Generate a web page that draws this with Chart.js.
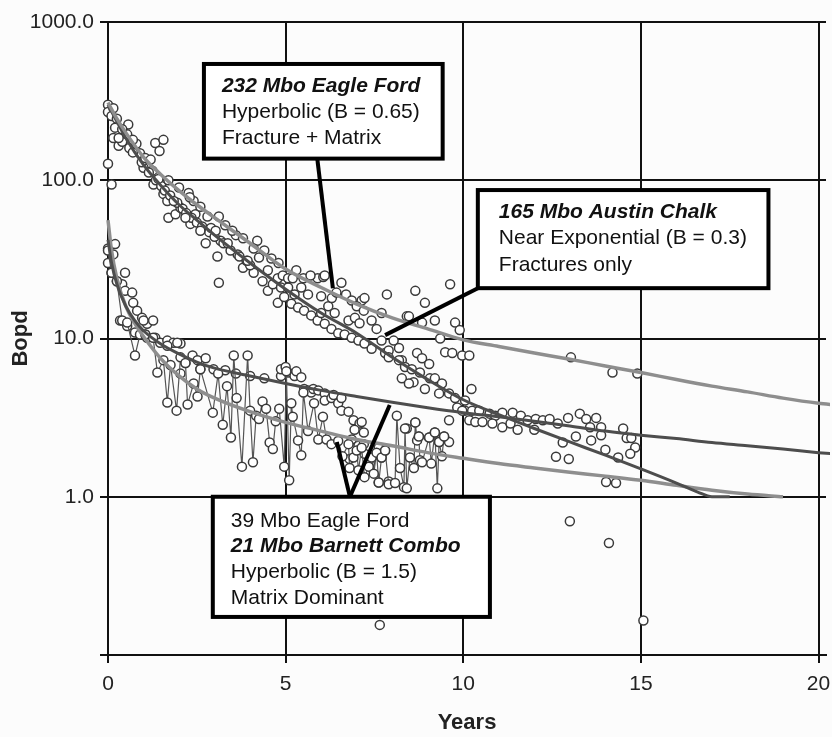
<!DOCTYPE html>
<html>
<head>
<meta charset="utf-8">
<script src="https://cdn.jsdelivr.net/npm/chart.js@4.4.0/dist/chart.umd.min.js"></script>
<style>
  html, body { margin: 0; padding: 0; background: #fcfcfc; }
  #wrap { width: 832px; height: 737px; }
</style>
</head>
<body>
<div id="wrap"><canvas id="c" width="832" height="737"></canvas></div>
<script>
// ---------- Data (Years, Bopd) ----------
const xTicks = [0, 5, 10, 15, 20];
const yTicks = [0.1, 1, 10, 100, 1000];

// 232 Mbo Eagle Ford - observed points
const ef232Points = [[0,300],[0,270],[0.15,285],[0.1,255],[0,127],[0.1,94],[0.25,245],[0.2,215],[0.3,185],[0.57,225],[0.54,195],[0.8,170],[1.05,138],[1.33,172],[1.56,180],[1.45,153],[1.42,102],[1.85,74],[2.27,83],[2.41,74],[2.8,59],[2.9,50],[3.12,59],[3.03,48],[3.37,40],[3.6,45],[4.2,41.5],[4.1,37],[4.25,32.5],[4.5,27],[4.78,24],[4.92,25],[5.07,24],[5.2,24],[5.5,24],[5.44,21],[5.9,24],[6.06,24.5],[6.1,25],[6.57,22.5],[6.43,19.5],[6.7,19],[6.86,17.4],[7.14,17.4],[7.22,18],[7.0,16],[7.2,15],[7.7,14.5],[7.85,19],[8.65,20],[8.92,16.8],[9.63,22],[8.47,13.8],[8.84,12.6],[9.2,13],[9.77,12.6],[9.9,11.3],[10.17,7.8],[13.03,7.6],[14.2,6.1],[14.9,6.0],[10.23,4.8],[3.12,22.5],[2.18,58],[2.6,48],[3.93,31],[5.63,19],[0.4,210],[0.7,180],[1.2,135],[1.7,100],[2.0,90],[2.3,78],[2.6,68],[3.3,52],[3.5,48],[3.8,43],[4.4,36],[4.6,32],[4.8,30],[5.3,27],[5.7,25]];

// 165 Mbo Austin Chalk - observed points
const ac165Points = [[0.15,185],[0.3,165],[0.9,148],[1.1,127],[1.0,120],[1.25,115],[1.28,94],[1.56,82],[1.67,74],[1.7,58],[1.9,61],[2.04,67],[2.32,53],[2.46,61],[2.75,40],[3.17,41.5],[3.08,33],[3.65,34],[3.8,28],[4.1,26],[4.35,23],[4.5,20],[4.64,22],[4.87,21],[5.07,21],[5.25,19],[4.78,16.8],[4.96,18.3],[5.16,16.6],[5.35,15.7],[5.52,15],[5.72,14],[5.9,13],[6.0,14.5],[6.1,12.4],[6.29,11.5],[6.2,16],[6.0,18.5],[6.3,18],[6.38,14.5],[6.48,10.8],[6.66,10.6],[6.77,13],[6.95,13.5],[6.86,10.1],[7.05,9.7],[7.08,12.5],[7.22,9.3],[7.42,8.6],[7.42,13],[7.56,11.5],[7.7,9.7],[7.8,8.1],[8.04,9.7],[8.19,8.7],[8.27,7.3],[8.41,13.8],[8.7,8.1],[7.9,8.4],[7.9,7.6],[8.19,7.3],[8.36,6.6],[8.55,6.4],[8.84,7.5],[9.04,6.9],[8.78,6.1],[9.06,5.6],[9.2,5.6],[9.4,5.2],[9.32,4.5],[9.6,4.5],[9.77,4.2],[10.05,4.06],[9.83,3.67],[10.05,3.5],[10.17,3.04],[9.6,3.04],[8.6,5.3],[8.92,4.8],[8.27,5.6],[8.47,5.2],[9.35,10],[9.49,8.2],[9.69,8.1],[9.97,7.8],[0.4,175],[0.6,160],[0.7,150],[0.95,130],[1.15,112],[1.35,100],[1.5,92],[1.6,86],[1.75,80],[1.95,72],[2.1,66],[2.2,62],[2.35,58],[2.5,54],[2.65,51],[2.85,47],[3.0,44],[3.25,40],[3.45,36],[3.7,33],[3.9,31],[4.0,29],[9.97,3.5],[10.25,3.5],[10.45,3.5],[10.34,2.97],[10.54,2.97],[10.74,3.35],[10.9,3.25],[10.82,2.9],[11.1,3.4],[11.39,3.4],[11.1,2.75],[11.33,2.9],[11.53,2.65],[11.62,3.25],[11.81,3.04],[12.0,2.65],[12.04,3.1],[12.24,3.04],[12.43,3.1],[12.66,2.9],[12.95,3.15],[12.8,2.2],[13.17,2.4],[13.28,3.35],[13.46,3.1],[13.57,2.75],[13.6,2.27],[13.74,3.15],[13.88,2.75],[13.88,2.45],[14.0,1.98],[14.36,1.77],[14.5,2.7],[14.6,2.35],[14.73,2.35],[14.84,2.05],[14.7,1.87],[12.61,1.79],[12.97,1.73],[14.02,1.24],[14.3,1.22]];

// 39 Mbo Eagle Ford - observed points
const ef39Points = [[0,37],[0,30],[0.15,34],[0.2,39.5],[0.1,26],[0.25,23],[0.48,26],[0.4,22],[0.48,20],[0.68,19.5],[0.71,16.8],[0.82,15],[0.96,13.5],[1.1,12.4],[1.27,13],[1.0,13],[0.34,13],[0.54,12],[0.76,10.9],[1.05,10.6],[1.1,10.1],[1.33,10.1],[1.47,9.4],[1.67,9.7],[1.84,9.4],[2.04,9.3],[1.95,9.4],[1.67,9.0],[2.18,7.0],[2.38,7.8],[2.52,7.3],[2.75,7.5],[2.97,6.4],[2.6,6.4],[2.04,6.0],[3.3,6.3],[3.6,6.0],[4.0,5.8],[4.4,5.6],[4.87,5.8],[4.87,6.4],[5.0,6.6],[5.07,6.1],[5.25,5.8],[5.3,6.2],[5.44,5.7],[5.52,4.8],[5.63,4.7],[5.72,4.55],[5.78,4.8],[5.92,4.7],[6.1,4.5],[6.1,4.06],[6.29,4.2],[6.35,4.4],[6.48,3.9],[6.57,4.2],[6.57,3.5],[6.77,3.45],[6.91,3.04],[7.08,2.9],[7.14,2.97],[6.94,2.65],[7.2,2.55],[6.86,2.3],[7.05,2.1],[7.2,2.15],[6.8,1.73],[7.22,1.87],[7.37,1.62],[7.62,2.04],[7.7,1.77],[7.8,1.96],[7.62,1.23],[7.9,1.25],[8.41,2.7],[8.65,2.95],[8.75,2.4],[9.04,2.37],[9.2,2.55],[9.32,2.22],[9.46,2.4],[9.6,2.22],[7.65,0.155],[13.0,0.70],[14.1,0.51],[15.07,0.165]];

// 21 Mbo Barnett Combo - observed points (connected)
const barnettPoints = [[0,36],[0.1,26],[0.25,23],[0.4,13],[0.54,12.6],[0.76,7.8],[0.9,10.6],[1.05,10.6],[1.27,10.1],[1.39,6.1],[1.56,7.3],[1.67,3.94],[1.76,6.8],[1.93,3.5],[2.04,7.6],[2.18,7.0],[2.24,3.83],[2.41,5.2],[2.52,4.3],[2.6,6.4],[2.95,3.4],[3.1,6.0],[3.23,2.85],[3.35,5.0],[3.46,2.37],[3.54,7.8],[3.62,4.2],[3.77,1.55],[3.93,7.8],[4.0,3.5],[4.08,1.65],[4.17,3.25],[4.25,3.1],[4.35,4.0],[4.45,3.6],[4.55,2.2],[4.64,2.0],[4.72,3.0],[4.82,3.6],[4.96,1.55],[5.02,6.2],[5.1,1.27],[5.16,3.9],[5.2,3.2],[5.35,2.27],[5.44,1.83],[5.5,4.55],[5.63,2.6],[5.8,3.9],[5.92,2.3],[6.05,3.2],[6.15,2.3],[6.29,2.15],[6.48,2.25],[6.6,1.8],[6.77,2.15],[6.8,1.52],[6.91,1.77],[7.0,1.96],[7.05,1.47],[7.14,2.04],[7.22,1.33],[7.34,1.55],[7.42,1.77],[7.48,1.4],[7.56,1.9],[7.62,1.23],[7.7,1.77],[7.8,1.96],[7.9,1.2],[8.08,1.22],[8.13,3.25],[8.22,1.52],[8.33,1.15],[8.36,2.7],[8.41,1.13],[8.5,1.77],[8.61,1.52],[8.65,2.95],[8.7,2.27],[8.75,2.4],[8.78,1.7],[8.84,1.65],[9.04,2.37],[9.1,1.62],[9.2,2.55],[9.27,1.13],[9.32,2.22],[9.4,1.8],[9.46,2.4]];

// Fitted decline curves
const ef232FitT = [0,0.25,0.5,1,1.5,2,2.5,3,4,5,6,7,8,9,10,11,12,13,14,15,16,17,18,19,20,20.5];
const ef232FitV = [310,245,200,140,108,86,70,58,40,27.5,21,16.5,13.5,11.5,9.8,8.9,8.1,7.4,6.7,6.1,5.5,5.0,4.6,4.2,3.9,3.8];
const ac165FitT = [0,0.25,0.5,1,1.5,2,2.5,3,4,5,6,7,8,9,10,11,12,13,14,15,16,16.6,17,17.5];
const ac165FitV = [300,235,185,125,92,70,56,45,30,20.5,14.5,10.8,7.6,5.5,4.1,3.3,2.7,2.22,1.83,1.5,1.22,1.07,1.0,1.0];
const ef39FitT = [0,0.1,0.25,0.5,0.75,1,1.5,2,2.5,3,4,5,6,7,8,9,10,11,12,13,14,15,16,17,18,19,20,20.5];
const ef39FitV = [42,30,22,16,13,11.2,9.2,8.0,7.1,6.5,5.8,5.2,4.7,4.3,3.95,3.65,3.4,3.2,3.0,2.8,2.6,2.45,2.33,2.2,2.1,2.0,1.9,1.86];
const barnettFitT = [0,0.1,0.25,0.5,0.75,1,1.5,2,2.5,3,4,5,6,7,8,9,10,11,12,13,14,15,16,17,18,19];
const barnettFitV = [56,36,24,16,12.5,10.3,7.4,5.8,4.8,4.2,3.45,2.95,2.6,2.3,2.1,1.9,1.75,1.62,1.52,1.43,1.35,1.27,1.18,1.1,1.04,1.0];

// Annotation texts
const noteEF232 = [["232 Mbo Eagle Ford", true], ["Hyperbolic (B = 0.65)", false], ["Fracture + Matrix", false]];
const noteAC165 = [["165 Mbo Austin Chalk", true], ["Near Exponential (B = 0.3)", false], ["Fractures only", false]];
const noteLow = [["39 Mbo Eagle Ford", false], ["21 Mbo Barnett Combo", true], ["Hyperbolic (B = 1.5)", false], ["Matrix Dominant", false]];

// ---------- Build ----------
const toXY = a => a.map(p => ({ x: p[0], y: p[1] }));
const fitXY = (ts, vs) => ts.map((t, i) => ({ x: t, y: vs[i] }));
const FONT = "'Liberation Sans', Arial, Helvetica, sans-serif";

const circleStyle = {
  showLine: false, pointRadius: 4.5, pointHoverRadius: 4.5,
  pointBackgroundColor: '#ffffff', pointBorderColor: '#3a3a3a', pointBorderWidth: 1.5,
  clip: 8, order: 2
};
const fitStyle = (color, w) => ({
  showLine: true, pointRadius: 0, borderColor: color, borderWidth: w,
  cubicInterpolationMode: 'monotone', fill: false, order: 0, clip: 4
});

const annotations = [
  { box: { x1: 2.70, x2: 9.42, yTop: 543, yBot: 137 }, lines: noteEF232, textDx: 18, firstDy: 22, step: 26,
    pointers: [[[5.89, 137], [6.33, 20.8]]] },
  { box: { x1: 10.41, x2: 18.59, yTop: 86.7, yBot: 20.8 }, lines: noteAC165, textDx: 21, firstDy: 22, step: 26.5,
    pointers: [[[10.41, 20.8], [7.80, 10.5]]] },
  { box: { x1: 2.95, x2: 10.75, yTop: 1.0, yBot: 0.174 }, lines: noteLow, textDx: 18, firstDy: 24, step: 25.7,
    pointers: [[[6.81, 1.0], [6.44, 2.22]], [[6.81, 1.0], [7.93, 3.8]]] }
];

const bgPlugin = {
  id: 'bg',
  beforeDraw(chart) {
    const ctx = chart.ctx;
    ctx.save();
    ctx.fillStyle = '#fcfcfc';
    ctx.fillRect(0, 0, chart.width, chart.height);
    ctx.restore();
  }
};

const notePlugin = {
  id: 'notes',
  afterDatasetsDraw(chart) {
    const ctx = chart.ctx, xs = chart.scales.x, ys = chart.scales.y;
    ctx.save();
    ctx.strokeStyle = '#000';
    ctx.lineCap = 'butt';
    ctx.lineWidth = 4;
    annotations.forEach(a => {
      a.pointers.forEach(p => {
        ctx.beginPath();
        ctx.moveTo(xs.getPixelForValue(p[0][0]), ys.getPixelForValue(p[0][1]));
        ctx.lineTo(xs.getPixelForValue(p[1][0]), ys.getPixelForValue(p[1][1]));
        ctx.stroke();
      });
    });
    annotations.forEach(a => {
      const L = xs.getPixelForValue(a.box.x1), R = xs.getPixelForValue(a.box.x2);
      const T = ys.getPixelForValue(a.box.yTop), B = ys.getPixelForValue(a.box.yBot);
      ctx.fillStyle = '#ffffff';
      ctx.fillRect(L, T, R - L, B - T);
      ctx.lineWidth = 4;
      ctx.strokeStyle = '#000';
      ctx.strokeRect(L, T, R - L, B - T);
      ctx.fillStyle = '#111';
      ctx.textBaseline = 'middle';
      ctx.textAlign = 'left';
      a.lines.forEach((ln, i) => {
        ctx.font = (ln[1] ? 'italic bold ' : '') + '21px ' + FONT;
        ctx.fillText(ln[0], L + a.textDx, T + a.firstDy + i * a.step);
      });
    });
    ctx.restore();
  }
};

new Chart(document.getElementById('c'), {
  type: 'scatter',
  data: {
    datasets: [
      Object.assign({ label: '232 Mbo Eagle Ford fit', data: fitXY(ef232FitT, ef232FitV) }, fitStyle('#8e8e8e', 3.5)),
      Object.assign({ label: '165 Mbo Austin Chalk fit', data: fitXY(ac165FitT, ac165FitV) }, fitStyle('#4d4d4d', 3)),
      Object.assign({ label: '39 Mbo Eagle Ford fit', data: fitXY(ef39FitT, ef39FitV) }, fitStyle('#4d4d4d', 3)),
      Object.assign({ label: '21 Mbo Barnett Combo fit', data: fitXY(barnettFitT, barnettFitV) }, fitStyle('#8e8e8e', 3.5)),
      Object.assign({ label: '232 Mbo Eagle Ford', data: toXY(ef232Points) }, circleStyle),
      Object.assign({ label: '165 Mbo Austin Chalk', data: toXY(ac165Points) }, circleStyle),
      Object.assign({ label: '39 Mbo Eagle Ford', data: toXY(ef39Points) }, circleStyle),
      Object.assign({ label: '21 Mbo Barnett Combo', data: toXY(barnettPoints) }, circleStyle,
        { showLine: true, borderColor: '#555', borderWidth: 1.2, tension: 0, order: 1 })
    ]
  },
  options: {
    responsive: false,
    animation: false,
    devicePixelRatio: 1,
    layout: { padding: { top: 22, right: -6, bottom: 0, left: 0 } },
    plugins: { legend: { display: false }, tooltip: { enabled: false } },
    scales: {
      x: {
        type: 'linear', min: 0, max: 20.21,
        afterBuildTicks: s => { s.ticks = xTicks.map(v => ({ value: v })); },
        afterFit: s => { s.height = 82; s.paddingLeft = 0; s.paddingRight = 0; },
        ticks: { color: '#222', font: { size: 21, family: FONT }, padding: 9,
                 callback: v => String(v), maxRotation: 0 },
        grid: { color: '#111', lineWidth: 2, tickLength: 8, drawTicks: true },
        border: { color: '#111', width: 2 },
        title: { display: true, text: 'Years', color: '#222',
                 font: { size: 22, weight: 'bold', family: FONT }, padding: { top: 0, bottom: 1 } }
      },
      y: {
        type: 'logarithmic', min: 0.1, max: 1000,
        afterBuildTicks: s => { s.ticks = yTicks.map(v => ({ value: v })); },
        afterFit: s => { s.width = 108; s.paddingTop = 0; s.paddingBottom = 0; },
        ticks: { color: '#222', font: { size: 21, family: FONT }, padding: 6,
                 callback: v => (v < 0.5 ? '' : Number(v).toFixed(1)) },
        grid: { color: '#111', lineWidth: 2, tickLength: 8, drawTicks: true },
        border: { color: '#111', width: 2 },
        title: { display: true, text: 'Bopd', color: '#222',
                 font: { size: 22, weight: 'bold', family: FONT }, padding: { top: 8, bottom: 0 } }
      }
    }
  },
  plugins: [bgPlugin, notePlugin]
});
</script>
</body>
</html>
